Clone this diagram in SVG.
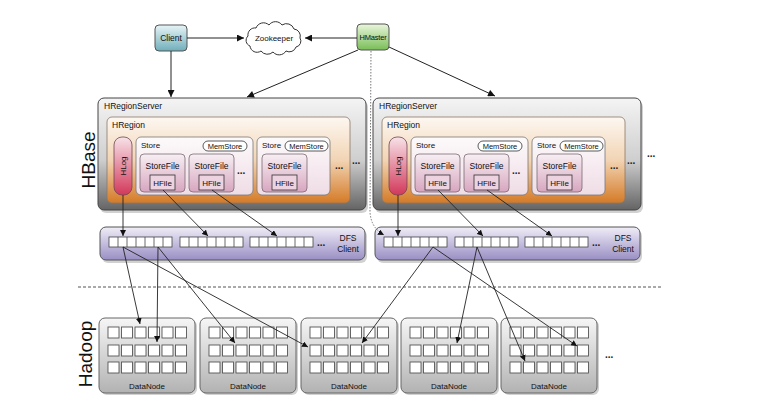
<svg xmlns="http://www.w3.org/2000/svg" width="772" height="415" viewBox="0 0 772 415">
<defs>
<linearGradient id="gClient" x1="0" y1="0" x2="0" y2="1"><stop offset="0" stop-color="#e8f5f6"/><stop offset="1" stop-color="#6faebb"/></linearGradient>
<linearGradient id="gMaster" x1="0" y1="0" x2="0" y2="1"><stop offset="0" stop-color="#eaf6dc"/><stop offset="1" stop-color="#79be57"/></linearGradient>
<linearGradient id="gServer" x1="0" y1="0" x2="0" y2="1"><stop offset="0" stop-color="#f4f4f4"/><stop offset="0.55" stop-color="#cfcfcf"/><stop offset="1" stop-color="#646464"/></linearGradient>
<linearGradient id="gRegion" x1="0" y1="0" x2="0" y2="1"><stop offset="0" stop-color="#fdf8f2"/><stop offset="0.5" stop-color="#f2d4b4"/><stop offset="1" stop-color="#d47a26"/></linearGradient>
<linearGradient id="gStore" x1="0" y1="0" x2="0" y2="1"><stop offset="0" stop-color="#fdfafb"/><stop offset="1" stop-color="#efdce5"/></linearGradient>
<linearGradient id="gSF" x1="0" y1="0" x2="0" y2="1"><stop offset="0" stop-color="#f7eff3"/><stop offset="1" stop-color="#d7a6bf"/></linearGradient>
<linearGradient id="gHLog" x1="0" y1="0" x2="0" y2="1"><stop offset="0" stop-color="#f7e2e8"/><stop offset="1" stop-color="#d2385a"/></linearGradient>
<linearGradient id="gDFS" x1="0" y1="0" x2="0" y2="1"><stop offset="0" stop-color="#f0edf7"/><stop offset="1" stop-color="#998fc4"/></linearGradient>
<linearGradient id="gDN" x1="0" y1="0" x2="0" y2="1"><stop offset="0" stop-color="#f6f6f6"/><stop offset="1" stop-color="#b2b2b2"/></linearGradient>
<marker id="ah" viewBox="0 0 10 10" refX="10" refY="5" markerWidth="6" markerHeight="6" markerUnits="userSpaceOnUse" orient="auto"><path d="M0,0 L10,5 L0,10 z" fill="#111"/></marker>
<marker id="ahB" viewBox="0 0 10 10" refX="10" refY="5" markerWidth="8" markerHeight="7" markerUnits="userSpaceOnUse" orient="auto"><path d="M0,0 L10,5 L0,10 z" fill="#111"/></marker>
</defs>
<style>
text{font-family:"Liberation Sans",Arial,sans-serif;fill:#111}
.t8{font-size:8.5px}
.t7{font-size:8px}
.c{text-anchor:middle}
.big{font-size:19px;fill:#111}
.dots{font-size:10px;font-weight:bold;fill:#222}
.server{fill:url(#gServer);stroke:#444;stroke-width:1}
.shadow{fill:#000;opacity:0.18}
.region{fill:url(#gRegion);stroke:#8a7766;stroke-width:0.8}
.store{fill:url(#gStore);stroke:#777;stroke-width:0.8}
.sf{fill:url(#gSF);stroke:#7a6a72;stroke-width:0.8}
.hfile{fill:#ecd3df;stroke:#333;stroke-width:0.8}
.mem{fill:#fff;stroke:#333;stroke-width:0.8}
.hlog{fill:url(#gHLog);stroke:#6e4650;stroke-width:0.8}
.dfs{fill:url(#gDFS);stroke:#555;stroke-width:1}
.blk{fill:#fff;stroke:#444;stroke-width:0.8}
.dn{fill:url(#gDN);stroke:#666;stroke-width:1}
.cell{fill:#fff;stroke:#555;stroke-width:0.9}
.ln{fill:none;stroke:#222;stroke-width:0.9;marker-end:url(#ah)}
.lnB{fill:none;stroke:#222;stroke-width:1;marker-end:url(#ahB)}
.dot{fill:none;stroke:#777;stroke-width:1;stroke-dasharray:1.5,1.5;marker-end:url(#ah)}
.dash{fill:none;stroke:#555;stroke-width:1;stroke-dasharray:3,2}
</style>
<rect width="772" height="415" fill="#fff"/>

<text class="big" transform="translate(95,160) rotate(-90)" text-anchor="middle">HBase</text>
<text class="big" transform="translate(91.5,354) rotate(-90)" text-anchor="middle">Hadoop</text>

<g id="client">
<rect x="155" y="25" width="32" height="26" rx="4" fill="url(#gClient)" stroke="#555"/>
<text class="t8 c" x="171" y="41">Client</text>
</g>
<g id="zookeeper">
<path d="M250,46 a6,6 0 0 1 -2,-10 a7,7 0 0 1 8,-8 a8,8 0 0 1 13,-3 a8,8 0 0 1 13,0 a8,8 0 0 1 12,4 a7,7 0 0 1 6,9 a6,6 0 0 1 -4,9 a7,7 0 0 1 -10,4 a8,8 0 0 1 -13,1 a8,8 0 0 1 -12,-1 a7,7 0 0 1 -11,-5 z" fill="#fff" stroke="#333" stroke-width="1"/>
<text class="t7 c" x="274" y="41">Zookeeper</text>
</g>
<g id="hmaster">
<rect x="357" y="24" width="32" height="26" rx="4" fill="url(#gMaster)" stroke="#555"/>
<text class="c" x="373" y="40" font-size="7.5" letter-spacing="-0.2">HMaster</text>
</g>

<g id="hregionserver1">
<rect class="shadow" x="100" y="101" width="268" height="112" rx="6"/>
<rect class="server" x="98" y="98" width="268" height="112" rx="6"/>
<text class="t8" x="104" y="109">HRegionServer</text>
<g id="hregion1">
<rect class="region" x="107" y="117" width="243" height="86" rx="5"/>
<text class="t8" x="112" y="128">HRegion</text>
<g id="hlog1">
<rect class="hlog" x="114" y="137" width="18" height="58" rx="8"/>
<text class="t7" transform="translate(126,166) rotate(-90)" text-anchor="middle">HLog</text>
</g>
<g id="store1a">
<rect class="store" x="136" y="137" width="117" height="58" rx="5"/>
<text class="t7" x="141" y="148">Store</text>
<rect class="mem" x="203" y="141" width="44" height="10" rx="5"/>
<text class="c" font-size="7.5" x="225" y="149">MemStore</text>
<rect class="sf" x="140" y="154" width="45" height="38" rx="4"/>
<text class="t8 c" x="162.5" y="169">StoreFile</text>
<rect class="hfile" x="150" y="175" width="25" height="15"/>
<text class="t7 c" x="162.5" y="185.5">HFile</text>
<rect class="sf" x="189" y="154" width="45" height="38" rx="4"/>
<text class="t8 c" x="211.5" y="169">StoreFile</text>
<rect class="hfile" x="199" y="175" width="25" height="15"/>
<text class="t7 c" x="211.5" y="185.5">HFile</text>
<text class="dots" x="237" y="174">...</text>
</g>
<g id="store1b">
<rect class="store" x="257" y="137" width="73" height="58" rx="5"/>
<text class="t7" x="262" y="148">Store</text>
<rect class="mem" x="285" y="141" width="43" height="10" rx="5"/>
<text class="c" font-size="7.5" x="306.5" y="149">MemStore</text>
<rect class="sf" x="262" y="154" width="45" height="38" rx="4"/>
<text class="t8 c" x="284.5" y="169">StoreFile</text>
<rect class="hfile" x="272" y="175" width="25" height="15"/>
<text class="t7 c" x="284.5" y="185.5">HFile</text>
</g>
<text class="dots" x="335" y="169">...</text>
</g>
<text class="dots" x="352" y="164">...</text>
</g>

<g id="hregionserver2">
<rect class="shadow" x="375" y="101" width="268" height="112" rx="6"/>
<rect class="server" x="373" y="98" width="268" height="112" rx="6"/>
<text class="t8" x="379" y="109">HRegionServer</text>
<g id="hregion2">
<rect class="region" x="382" y="117" width="243" height="86" rx="5"/>
<text class="t8" x="387" y="128">HRegion</text>
<g id="hlog2">
<rect class="hlog" x="389" y="137" width="18" height="58" rx="8"/>
<text class="t7" transform="translate(401,166) rotate(-90)" text-anchor="middle">HLog</text>
</g>
<g id="store2a">
<rect class="store" x="411" y="137" width="117" height="58" rx="5"/>
<text class="t7" x="416" y="148">Store</text>
<rect class="mem" x="478" y="141" width="44" height="10" rx="5"/>
<text class="c" font-size="7.5" x="500" y="149">MemStore</text>
<rect class="sf" x="415" y="154" width="45" height="38" rx="4"/>
<text class="t8 c" x="437.5" y="169">StoreFile</text>
<rect class="hfile" x="425" y="175" width="25" height="15"/>
<text class="t7 c" x="437.5" y="185.5">HFile</text>
<rect class="sf" x="464" y="154" width="45" height="38" rx="4"/>
<text class="t8 c" x="486.5" y="169">StoreFile</text>
<rect class="hfile" x="474" y="175" width="25" height="15"/>
<text class="t7 c" x="486.5" y="185.5">HFile</text>
<text class="dots" x="512" y="174">...</text>
</g>
<g id="store2b">
<rect class="store" x="532" y="137" width="73" height="58" rx="5"/>
<text class="t7" x="537" y="148">Store</text>
<rect class="mem" x="560" y="141" width="43" height="10" rx="5"/>
<text class="c" font-size="7.5" x="581.5" y="149">MemStore</text>
<rect class="sf" x="537" y="154" width="45" height="38" rx="4"/>
<text class="t8 c" x="559.5" y="169">StoreFile</text>
<rect class="hfile" x="547" y="175" width="25" height="15"/>
<text class="t7 c" x="559.5" y="185.5">HFile</text>
</g>
<text class="dots" x="610" y="169">...</text>
</g>
<text class="dots" x="627" y="164">...</text>
</g>
<text class="dots" x="647" y="157">...</text>

<g id="dfsclient1">
<rect class="shadow" x="102" y="230" width="265" height="33" rx="6"/>
<rect class="dfs" x="100" y="227" width="265" height="33" rx="6"/>
<rect class="blk" x="109" y="237" width="63" height="10"/>
<path d="M118,237v10M127,237v10M136,237v10M145,237v10M154,237v10M163,237v10" stroke="#444" stroke-width="0.8"/>
<rect class="blk" x="180" y="237" width="63" height="10"/>
<path d="M189,237v10M198,237v10M207,237v10M216,237v10M225,237v10M234,237v10" stroke="#444" stroke-width="0.8"/>
<rect class="blk" x="250" y="237" width="63" height="10"/>
<path d="M259,237v10M268,237v10M277,237v10M286,237v10M295,237v10M304,237v10" stroke="#444" stroke-width="0.8"/>
<text class="dots" x="317" y="246">...</text>
<text class="t8 c" x="348" y="241">DFS</text>
<text class="t8 c" x="348" y="252">Client</text>
</g>

<g id="dfsclient2">
<rect class="shadow" x="377" y="230" width="265" height="33" rx="6"/>
<rect class="dfs" x="375" y="227" width="265" height="33" rx="6"/>
<rect class="blk" x="384" y="237" width="63" height="10"/>
<path d="M393,237v10M402,237v10M411,237v10M420,237v10M429,237v10M438,237v10" stroke="#444" stroke-width="0.8"/>
<rect class="blk" x="455" y="237" width="63" height="10"/>
<path d="M464,237v10M473,237v10M482,237v10M491,237v10M500,237v10M509,237v10" stroke="#444" stroke-width="0.8"/>
<rect class="blk" x="525" y="237" width="63" height="10"/>
<path d="M534,237v10M543,237v10M552,237v10M561,237v10M570,237v10M579,237v10" stroke="#444" stroke-width="0.8"/>
<text class="dots" x="592" y="246">...</text>
<text class="t8 c" x="623" y="241">DFS</text>
<text class="t8 c" x="623" y="252">Client</text>
</g>

<line class="dash" x1="78" y1="287" x2="662" y2="287"/>

<g id="datanode1" transform="translate(99,318)">
<rect class="shadow" x="2" y="2" width="96" height="75" rx="6"/>
<rect class="dn" x="0" y="0" width="96" height="75" rx="6"/>
<g class="cells">
<rect class="cell" x="9" y="9" width="11" height="11"/><rect class="cell" x="22.5" y="9" width="11" height="11"/><rect class="cell" x="36" y="9" width="11" height="11"/><rect class="cell" x="49.5" y="9" width="11" height="11"/><rect class="cell" x="63" y="9" width="11" height="11"/><rect class="cell" x="76.5" y="9" width="11" height="11"/>
<rect class="cell" x="9" y="27" width="11" height="11"/><rect class="cell" x="22.5" y="27" width="11" height="11"/><rect class="cell" x="36" y="27" width="11" height="11"/><rect class="cell" x="49.5" y="27" width="11" height="11"/><rect class="cell" x="63" y="27" width="11" height="11"/><rect class="cell" x="76.5" y="27" width="11" height="11"/>
<rect class="cell" x="9" y="44" width="11" height="11"/><rect class="cell" x="22.5" y="44" width="11" height="11"/><rect class="cell" x="36" y="44" width="11" height="11"/><rect class="cell" x="49.5" y="44" width="11" height="11"/><rect class="cell" x="63" y="44" width="11" height="11"/><rect class="cell" x="76.5" y="44" width="11" height="11"/>
</g>
<text class="t7 c" x="48" y="71">DataNode</text>
</g>
<g id="datanode2" transform="translate(200,318)">
<rect class="shadow" x="2" y="2" width="96" height="75" rx="6"/>
<rect class="dn" x="0" y="0" width="96" height="75" rx="6"/>
<g class="cells">
<rect class="cell" x="9" y="9" width="11" height="11"/><rect class="cell" x="22.5" y="9" width="11" height="11"/><rect class="cell" x="36" y="9" width="11" height="11"/><rect class="cell" x="49.5" y="9" width="11" height="11"/><rect class="cell" x="63" y="9" width="11" height="11"/><rect class="cell" x="76.5" y="9" width="11" height="11"/>
<rect class="cell" x="9" y="27" width="11" height="11"/><rect class="cell" x="22.5" y="27" width="11" height="11"/><rect class="cell" x="36" y="27" width="11" height="11"/><rect class="cell" x="49.5" y="27" width="11" height="11"/><rect class="cell" x="63" y="27" width="11" height="11"/><rect class="cell" x="76.5" y="27" width="11" height="11"/>
<rect class="cell" x="9" y="44" width="11" height="11"/><rect class="cell" x="22.5" y="44" width="11" height="11"/><rect class="cell" x="36" y="44" width="11" height="11"/><rect class="cell" x="49.5" y="44" width="11" height="11"/><rect class="cell" x="63" y="44" width="11" height="11"/><rect class="cell" x="76.5" y="44" width="11" height="11"/>
</g>
<text class="t7 c" x="48" y="71">DataNode</text>
</g>
<g id="datanode3" transform="translate(301,318)">
<rect class="shadow" x="2" y="2" width="96" height="75" rx="6"/>
<rect class="dn" x="0" y="0" width="96" height="75" rx="6"/>
<g class="cells">
<rect class="cell" x="9" y="9" width="11" height="11"/><rect class="cell" x="22.5" y="9" width="11" height="11"/><rect class="cell" x="36" y="9" width="11" height="11"/><rect class="cell" x="49.5" y="9" width="11" height="11"/><rect class="cell" x="63" y="9" width="11" height="11"/><rect class="cell" x="76.5" y="9" width="11" height="11"/>
<rect class="cell" x="9" y="27" width="11" height="11"/><rect class="cell" x="22.5" y="27" width="11" height="11"/><rect class="cell" x="36" y="27" width="11" height="11"/><rect class="cell" x="49.5" y="27" width="11" height="11"/><rect class="cell" x="63" y="27" width="11" height="11"/><rect class="cell" x="76.5" y="27" width="11" height="11"/>
<rect class="cell" x="9" y="44" width="11" height="11"/><rect class="cell" x="22.5" y="44" width="11" height="11"/><rect class="cell" x="36" y="44" width="11" height="11"/><rect class="cell" x="49.5" y="44" width="11" height="11"/><rect class="cell" x="63" y="44" width="11" height="11"/><rect class="cell" x="76.5" y="44" width="11" height="11"/>
</g>
<text class="t7 c" x="48" y="71">DataNode</text>
</g>
<g id="datanode4" transform="translate(401,318)">
<rect class="shadow" x="2" y="2" width="96" height="75" rx="6"/>
<rect class="dn" x="0" y="0" width="96" height="75" rx="6"/>
<g class="cells">
<rect class="cell" x="9" y="9" width="11" height="11"/><rect class="cell" x="22.5" y="9" width="11" height="11"/><rect class="cell" x="36" y="9" width="11" height="11"/><rect class="cell" x="49.5" y="9" width="11" height="11"/><rect class="cell" x="63" y="9" width="11" height="11"/><rect class="cell" x="76.5" y="9" width="11" height="11"/>
<rect class="cell" x="9" y="27" width="11" height="11"/><rect class="cell" x="22.5" y="27" width="11" height="11"/><rect class="cell" x="36" y="27" width="11" height="11"/><rect class="cell" x="49.5" y="27" width="11" height="11"/><rect class="cell" x="63" y="27" width="11" height="11"/><rect class="cell" x="76.5" y="27" width="11" height="11"/>
<rect class="cell" x="9" y="44" width="11" height="11"/><rect class="cell" x="22.5" y="44" width="11" height="11"/><rect class="cell" x="36" y="44" width="11" height="11"/><rect class="cell" x="49.5" y="44" width="11" height="11"/><rect class="cell" x="63" y="44" width="11" height="11"/><rect class="cell" x="76.5" y="44" width="11" height="11"/>
</g>
<text class="t7 c" x="48" y="71">DataNode</text>
</g>
<g id="datanode5" transform="translate(501,318)">
<rect class="shadow" x="2" y="2" width="96" height="75" rx="6"/>
<rect class="dn" x="0" y="0" width="96" height="75" rx="6"/>
<g class="cells">
<rect class="cell" x="9" y="9" width="11" height="11"/><rect class="cell" x="22.5" y="9" width="11" height="11"/><rect class="cell" x="36" y="9" width="11" height="11"/><rect class="cell" x="49.5" y="9" width="11" height="11"/><rect class="cell" x="63" y="9" width="11" height="11"/><rect class="cell" x="76.5" y="9" width="11" height="11"/>
<rect class="cell" x="9" y="27" width="11" height="11"/><rect class="cell" x="22.5" y="27" width="11" height="11"/><rect class="cell" x="36" y="27" width="11" height="11"/><rect class="cell" x="49.5" y="27" width="11" height="11"/><rect class="cell" x="63" y="27" width="11" height="11"/><rect class="cell" x="76.5" y="27" width="11" height="11"/>
<rect class="cell" x="9" y="44" width="11" height="11"/><rect class="cell" x="22.5" y="44" width="11" height="11"/><rect class="cell" x="36" y="44" width="11" height="11"/><rect class="cell" x="49.5" y="44" width="11" height="11"/><rect class="cell" x="63" y="44" width="11" height="11"/><rect class="cell" x="76.5" y="44" width="11" height="11"/>
</g>
<text class="t7 c" x="48" y="71">DataNode</text>
</g>
<text class="dots" x="605" y="358">...</text>

<g id="connectors">
<line class="lnB" x1="187" y1="38" x2="244" y2="38"/>
<line class="lnB" x1="357" y1="38" x2="305" y2="38"/>
<line class="lnB" x1="171" y1="51" x2="171" y2="97"/>
<line class="lnB" x1="358" y1="50" x2="247" y2="97"/>
<line class="lnB" x1="389" y1="47" x2="495" y2="96"/>
<path class="dot" d="M371,51 L370,212 Q371,228 384,235"/>
<line class="ln" x1="123" y1="195" x2="123" y2="236"/>
<line class="ln" x1="163" y1="190" x2="208" y2="236"/>
<line class="ln" x1="212" y1="190" x2="277" y2="236"/>
<line class="ln" x1="398" y1="195" x2="398" y2="236"/>
<line class="ln" x1="438" y1="190" x2="483" y2="236"/>
<line class="ln" x1="487" y1="190" x2="552" y2="236"/>
<line class="ln" x1="123" y1="247" x2="140" y2="324"/>
<line class="ln" x1="123" y1="247" x2="308" y2="347"/>
<line class="ln" x1="158" y1="247" x2="157" y2="342"/>
<line class="ln" x1="158" y1="247" x2="235" y2="343"/>
<line class="ln" x1="433" y1="247" x2="362" y2="343"/>
<line class="ln" x1="433" y1="247" x2="577" y2="346"/>
<line class="ln" x1="477" y1="247" x2="457" y2="343"/>
<line class="ln" x1="477" y1="247" x2="525" y2="361"/>
</g>
</svg>
